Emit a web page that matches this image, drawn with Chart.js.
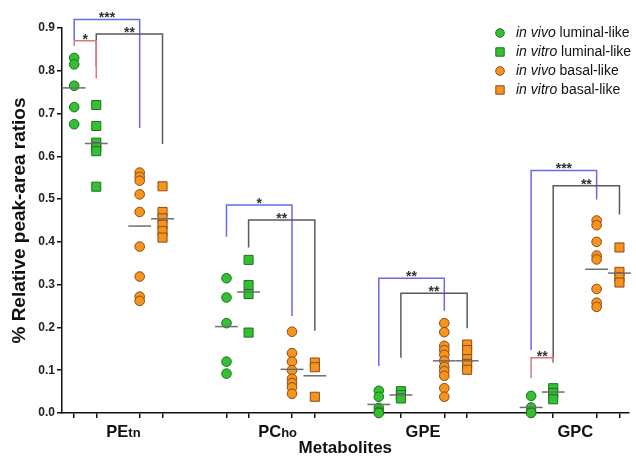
<!DOCTYPE html>
<html><head><meta charset="utf-8">
<script src="https://cdn.jsdelivr.net/npm/chart.js@4"></script>
<style>html,body{margin:0;padding:0;background:#fff;}#wrap{width:636px;height:457px;position:relative;}</style>
</head><body><div id="wrap"><canvas id="c"></canvas></div>
<script>
// ---- data ----
const categories = ['PEtn', 'PCho', 'GPE', 'GPC'];
const seriesNames = ['in vivo luminal-like', 'in vitro luminal-like', 'in vivo basal-like', 'in vitro basal-like'];
const inVivoLuminal = [
  [0.83, 0.815, 0.765, 0.715, 0.675],
  [0.315, 0.27, 0.21, 0.12, 0.092],
  [0.052, 0.038, 0.012, 0.003, 0.0],
  [0.04, 0.013, 0.003, 0.0]
];
const inVitroLuminal = [
  [0.72, 0.671, 0.632, 0.622, 0.612, 0.529],
  [0.358, 0.299, 0.278, 0.188],
  [0.051, 0.042, 0.034],
  [0.058, 0.047, 0.032]
];
const inVivoBasal = [
  [0.562, 0.552, 0.543, 0.511, 0.47, 0.389, 0.319, 0.272, 0.262],
  [0.19, 0.14, 0.12, 0.10, 0.08, 0.07, 0.06, 0.045],
  [0.21, 0.189, 0.157, 0.147, 0.136, 0.122, 0.108, 0.098, 0.087, 0.058, 0.038],
  [0.45, 0.439, 0.40, 0.368, 0.359, 0.29, 0.258, 0.248]
];
const inVitroBasal = [
  [0.53, 0.47, 0.455, 0.44, 0.425, 0.41],
  [0.118, 0.107, 0.038],
  [0.16, 0.147, 0.126, 0.115, 0.101],
  [0.387, 0.33, 0.317, 0.305]
];
const meanInVivoLuminal = [0.76, 0.202, 0.02, 0.013];
const meanInVitroLuminal = [0.63, 0.283, 0.042, 0.049];
const meanInVivoBasal = [0.437, 0.102, 0.122, 0.336];
const meanInVitroBasal = [0.454, 0.087, 0.122, 0.327];
const yTicks = [0, 0.1, 0.2, 0.3, 0.4, 0.5, 0.6, 0.7, 0.8, 0.9];
// significance brackets: [group, fromSeries, toSeries, top, leftEnd, rightEnd, label, kind]
const sigBrackets = [
  [0, 0, 2, 0.920, 0.872, 0.666, '***', 'blue'],
  [0, 1, 3, 0.886, 0.810, 0.629, '**', 'black'],
  [0, 0, 1, 0.870, 0.858, 0.782, '*', 'red'],
  [1, 0, 2, 0.486, 0.412, 0.227, '*', 'blue'],
  [1, 1, 3, 0.451, 0.387, 0.192, '**', 'black'],
  [2, 0, 2, 0.315, 0.110, 0.239, '**', 'blue'],
  [2, 1, 3, 0.280, 0.129, 0.198, '**', 'black'],
  [3, 0, 2, 0.567, 0.147, 0.499, '***', 'blue'],
  [3, 1, 3, 0.531, 0.118, 0.464, '**', 'black'],
  [3, 0, 1, 0.129, 0.081, 0.118, '**', 'red']
];

// ---- styling / layout ----
const colOffsets = [-0.29, -0.145, 0.14, 0.29];
const colX = (g, c) => g + 1 + colOffsets[c];
const GREEN = '#33c133', GREEN_B = '#1d701d';
const ORANGE = '#f7941d', ORANGE_B = '#8a4a12';
const styles = [
  {pointStyle: 'circle', bg: GREEN, bd: GREEN_B, r: 4.8},
  {pointStyle: 'rect', bg: GREEN, bd: GREEN_B, r: 6.4},
  {pointStyle: 'circle', bg: ORANGE, bd: ORANGE_B, r: 4.8},
  {pointStyle: 'rect', bg: ORANGE, bd: ORANGE_B, r: 6.4}
];
const bracketColors = {red: '#d47c80', blue: '#6a6ae6', black: '#5a5a5a'};
const FONT = '"Liberation Sans", Arial, sans-serif';

const series = [inVivoLuminal, inVitroLuminal, inVivoBasal, inVitroBasal];
const means = [meanInVivoLuminal, meanInVitroLuminal, meanInVivoBasal, meanInVitroBasal];

const datasets = [];
// mean lines
means.forEach((m, s) => {
  m.forEach((v, g) => {
    datasets.push({
      label: 'mean', data: [{x: colX(g, s) - 0.075, y: v}, {x: colX(g, s) + 0.075, y: v}],
      showLine: true, pointRadius: 0, borderColor: '#6e6e6e', borderWidth: 1.5, order: 0, clip: false
    });
  });
});
// points
series.forEach((ser, s) => {
  const pts = [];
  ser.forEach((vals, g) => vals.forEach(v => pts.push({x: colX(g, s), y: v})));
  datasets.push({
    label: seriesNames[s], data: pts, pointStyle: styles[s].pointStyle,
    pointRadius: styles[s].r, pointHoverRadius: styles[s].r,
    backgroundColor: styles[s].bg, borderColor: styles[s].bd, pointBorderWidth: 1,
    showLine: false, order: 1, clip: false
  });
});

const tickPositions = [];
for (let g = 0; g < categories.length; g++) for (let c = 0; c < 4; c++) tickPositions.push(colX(g, c));

const decor = {
  id: 'decor',
  afterDraw(chart) {
    const ctx = chart.ctx, xs = chart.scales.x, ys = chart.scales.y;
    ctx.save();
    // brackets
    sigBrackets.forEach(b => {
      const [g, c1, c2, top, le, re, lab, kind] = b;
      const x1 = xs.getPixelForValue(colX(g, c1)), x2 = xs.getPixelForValue(colX(g, c2));
      const yT = ys.getPixelForValue(top), yL = ys.getPixelForValue(le), yR = ys.getPixelForValue(re);
      ctx.strokeStyle = bracketColors[kind]; ctx.lineWidth = 1.5;
      ctx.beginPath(); ctx.moveTo(x1, yL); ctx.lineTo(x1, yT); ctx.lineTo(x2, yT); ctx.lineTo(x2, yR); ctx.stroke();
      ctx.fillStyle = '#333'; ctx.font = 'bold 14px ' + FONT; ctx.textAlign = 'center'; ctx.textBaseline = 'alphabetic';
      ctx.fillText(lab, (x1 + x2) / 2, yT + 3);
    });
    // category labels
    ctx.fillStyle = '#111'; ctx.textBaseline = 'alphabetic';
    categories.forEach((cat, g) => {
      const cx = xs.getPixelForValue(g + 1);
      let big = cat, small = '';
      if (cat === 'PEtn') { big = 'PE'; small = 'tn'; }
      if (cat === 'PCho') { big = 'PC'; small = 'ho'; }
      ctx.font = 'bold 16.5px ' + FONT; const w1 = ctx.measureText(big).width;
      const x0 = small ? cx - w1 / 2 - 1 : cx - w1 / 2;
      ctx.textAlign = 'left';
      ctx.fillText(big, x0, 437);
      if (small) { ctx.font = 'bold 13px ' + FONT; ctx.fillText(small, x0 + w1, 437); }
    });
    // x title
    ctx.textAlign = 'center'; ctx.font = 'bold 17px ' + FONT;
    ctx.fillText('Metabolites', (chart.chartArea.left + chart.chartArea.right) / 2, 453);
    // y title
    ctx.save();
    ctx.translate(20, (chart.chartArea.top + chart.chartArea.bottom) / 2);
    ctx.rotate(-Math.PI / 2);
    ctx.textAlign = 'center'; ctx.textBaseline = 'middle'; ctx.font = 'bold 19px ' + FONT;
    ctx.fillText('% Relative peak-area ratios', 0, 0);
    ctx.restore();
    // legend
    const rows = [33, 52, 71, 90];
    seriesNames.forEach((name, s) => {
      const y = rows[s], mx = 500;
      ctx.fillStyle = styles[s].bg; ctx.strokeStyle = styles[s].bd; ctx.lineWidth = 1;
      ctx.beginPath();
      if (styles[s].pointStyle === 'circle') ctx.arc(mx, y, 4.3, 0, Math.PI * 2);
      else ctx.rect(mx - 4.2, y - 4.2, 8.4, 8.4);
      ctx.fill(); ctx.stroke();
      const parts = name.split(' ');
      const it = parts[0] + ' ' + parts[1] + ' ';
      const rest = parts.slice(2).join(' ');
      ctx.fillStyle = '#111'; ctx.textAlign = 'left'; ctx.textBaseline = 'middle';
      ctx.font = 'italic 14px ' + FONT; ctx.fillText(it, 516, y);
      const w = ctx.measureText(it).width;
      ctx.font = '14px ' + FONT; ctx.fillText(rest, 516 + w, y);
    });
    ctx.restore();
  }
};

new Chart(document.getElementById('c'), {
  type: 'scatter',
  data: {datasets},
  options: {
    responsive: true, maintainAspectRatio: false, animation: false,
    layout: {padding: {top: 28, right: 4, left: 0, bottom: 0}},
    plugins: {legend: {display: false}, tooltip: {enabled: false}},
    scales: {
      x: {
        type: 'linear', min: 0.63, max: 4.35,
        afterBuildTicks: (sc) => { sc.ticks = tickPositions.map(v => ({value: v})); },
        afterFit: (sc) => { sc.height = 44; },
        ticks: {callback: () => '', autoSkip: false},
        grid: {drawOnChartArea: false, drawTicks: true, tickLength: 5, color: '#111', lineWidth: 1.5},
        border: {display: true, color: '#111', width: 1.5}
      },
      y: {
        min: 0, max: 0.9,
        afterBuildTicks: (sc) => { sc.ticks = yTicks.map(v => ({value: v})); },
        afterFit: (sc) => { sc.width = 62; },
        ticks: {callback: (v) => Number(v).toFixed(1), font: {family: FONT, size: 12, weight: 'bold'}, color: '#222', padding: 2},
        grid: {drawOnChartArea: false, drawTicks: true, tickLength: 5, color: '#111', lineWidth: 1.5},
        border: {display: true, color: '#111', width: 1.5}
      }
    }
  },
  plugins: [decor]
});
</script></body></html>
